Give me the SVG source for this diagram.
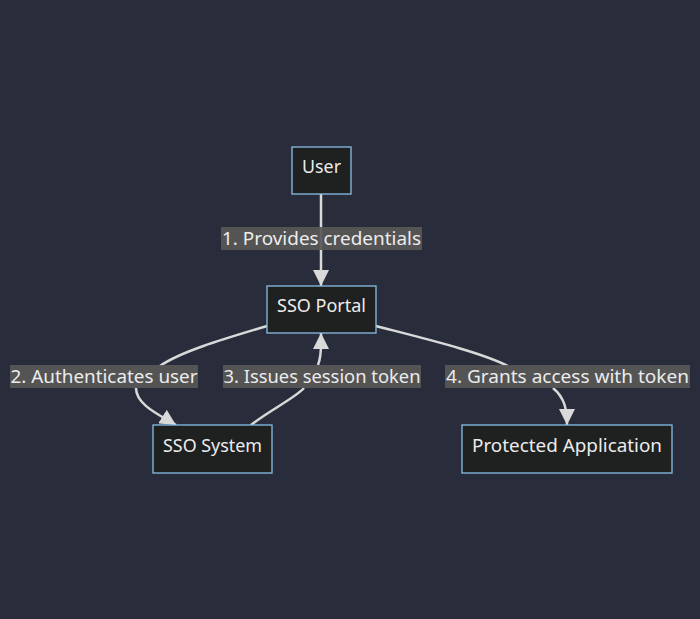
<svg xmlns="http://www.w3.org/2000/svg" width="700" height="619" viewBox="0 0 700 619">
<defs>
<style>
.node rect{fill:#1f2020;stroke:#89bde6;stroke-width:1.3}
.node text,.lbl text{font-family:"Noto Sans","Liberation Sans",Arial,sans-serif;font-size:18px;fill:#ececec;text-anchor:middle;dominant-baseline:central}
.lbl rect{fill:#585858;opacity:0.92}
.edge{fill:none;stroke:#d9d9d9;stroke-width:2.5}
</style>
<marker id="ah" viewBox="0 0 10 10" refX="10" refY="5" markerWidth="16" markerHeight="16" markerUnits="userSpaceOnUse" orient="auto">
<path d="M0,0 L10,5 L0,10 z" fill="#d9d9d9"/>
</marker>
</defs>
<rect width="700" height="619" fill="#292d3b"/>
<g id="connectors">
<path class="edge" d="M321,194 L321,286" marker-end="url(#ah)"/>
<path class="edge" d="M267,326 C220,340 180,352 160,366 M136,388 C136,405 160,415 176,425" marker-end="url(#ah)"/>
<path class="edge" d="M251,425 C270,410 295,398 304,388 M318,365 C322,355 321,345 321,333" marker-end="url(#ah)"/>
<path class="edge" d="M376,326 C430,340 480,352 508,366 M553,388 C565,398 567,410 567,425" marker-end="url(#ah)"/>
</g>
<g id="labels">
<g class="lbl"><rect x="221" y="227" width="201" height="23"/><text x="321.5" y="237.5" textLength="199" lengthAdjust="spacingAndGlyphs">1. Provides credentials</text></g>
<g class="lbl"><rect x="10" y="365" width="188" height="23"/><text x="104" y="375.5" textLength="187" lengthAdjust="spacingAndGlyphs">2. Authenticates user</text></g>
<g class="lbl"><rect x="223" y="365" width="198" height="23"/><text x="322" y="375.5" textLength="197" lengthAdjust="spacingAndGlyphs">3. Issues session token</text></g>
<g class="lbl"><rect x="445" y="365" width="245" height="23"/><text x="567.5" y="375.5" textLength="243" lengthAdjust="spacingAndGlyphs">4. Grants access with token</text></g>
</g>
<g id="user" class="node"><rect x="292" y="147" width="59" height="47"/><text x="321.5" y="166" textLength="39" lengthAdjust="spacingAndGlyphs">User</text></g>
<g id="portal" class="node"><rect x="267" y="286" width="109" height="47"/><text x="321.5" y="305" textLength="89" lengthAdjust="spacingAndGlyphs">SSO Portal</text></g>
<g id="ssosystem" class="node"><rect x="153" y="425" width="119" height="48"/><text x="212.5" y="445" textLength="99" lengthAdjust="spacingAndGlyphs">SSO System</text></g>
<g id="app" class="node"><rect x="462" y="425" width="210" height="48"/><text x="567" y="445" textLength="190" lengthAdjust="spacingAndGlyphs">Protected Application</text></g>
</svg>
